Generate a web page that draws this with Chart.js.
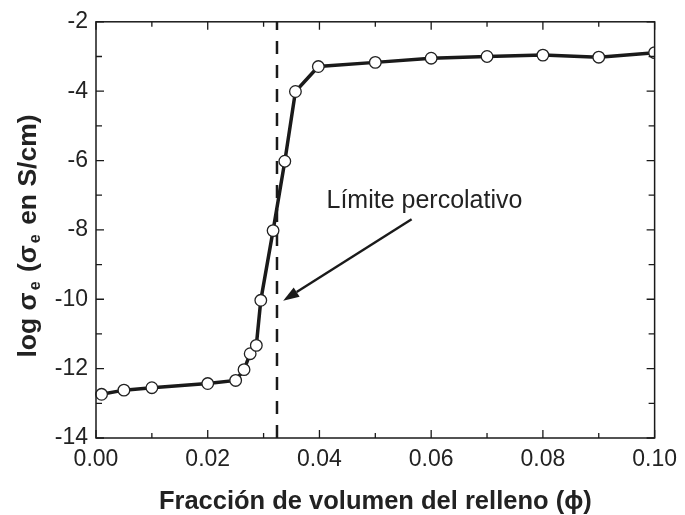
<!DOCTYPE html>
<html><head><meta charset="utf-8">
<script src="https://cdn.jsdelivr.net/npm/chart.js@4/dist/chart.umd.min.js"></script>
<style>html,body{margin:0;padding:0;background:#fff}#wrap{width:685px;height:515px}</style>
</head><body><div id="wrap"><canvas id="c" width="685" height="515"></canvas></div>
<script>
const phi = [0.001, 0.005, 0.010, 0.020, 0.025, 0.0265, 0.0276, 0.0287, 0.0295, 0.0317, 0.0338, 0.0357, 0.0398, 0.050, 0.060, 0.070, 0.080, 0.090, 0.100];
const logSigma = [-12.74, -12.62, -12.55, -12.43, -12.34, -12.03, -11.57, -11.33, -10.03, -8.02, -6.02, -4.01, -3.29, -3.17, -3.05, -3.00, -2.96, -3.02, -2.89];
const percolationPhi = 0.0324;
const percolationRange = [-14, -2];
const xMajorTicks = [0, 0.02, 0.04, 0.06, 0.08, 0.10];
const xMinorTicks = [0.01, 0.03, 0.05, 0.07, 0.09];
const yMajorTicks = [-14, -12, -10, -8, -6, -4, -2];
const yMinorTicks = [-13, -11, -9, -7, -5, -3];
const annotationText = 'Límite percolativo';
const annotationTextAt = [0.0588, -7.37];
const arrowFrom = [0.0565, -7.69];
const arrowTo = [0.0335, -10.04];
const xTitle = 'Fracción de volumen del relleno (\u03D5)';
const yTitleParts = [['log \u03C3', false], ['e', true], [' (\u03C3', false], ['e', true], [' en S/cm)', false]];

const FONT = '"Liberation Sans", Arial, sans-serif';
const INK = '#1a1a1a';

const framePlugin = {
  id: 'frame',
  afterDatasetsDraw(chart) {
    const {ctx, chartArea: a, scales: {x, y}} = chart;
    ctx.save();
    ctx.strokeStyle = INK;
    ctx.lineWidth = 1.5;
    ctx.strokeRect(a.left, a.top, a.right - a.left, a.bottom - a.top);
    ctx.lineWidth = 1.3;
    const tick = (arr, len, horiz) => {
      arr.forEach(v => {
        ctx.beginPath();
        if (horiz) {
          const px = x.getPixelForValue(v);
          ctx.moveTo(px, a.bottom); ctx.lineTo(px, a.bottom - len);
          ctx.moveTo(px, a.top); ctx.lineTo(px, a.top + len);
        } else {
          const py = y.getPixelForValue(v);
          ctx.moveTo(a.left, py); ctx.lineTo(a.left + len, py);
          ctx.moveTo(a.right, py); ctx.lineTo(a.right - len, py);
        }
        ctx.stroke();
      });
    };
    tick(xMajorTicks, 8, true); tick(xMinorTicks, 5, true);
    tick(yMajorTicks, 8, false); tick(yMinorTicks, 6, false);

    // annotation text
    ctx.fillStyle = '#222';
    ctx.font = '25px ' + FONT;
    ctx.textAlign = 'center'; ctx.textBaseline = 'alphabetic';
    ctx.fillText(annotationText, x.getPixelForValue(annotationTextAt[0]), y.getPixelForValue(annotationTextAt[1]));

    // arrow
    const x0 = x.getPixelForValue(arrowFrom[0]), y0 = y.getPixelForValue(arrowFrom[1]);
    const x1 = x.getPixelForValue(arrowTo[0]), y1 = y.getPixelForValue(arrowTo[1]);
    const ang = Math.atan2(y1 - y0, x1 - x0);
    const hl = 16, hw = 5.5;
    const bx = x1 - hl * Math.cos(ang), by = y1 - hl * Math.sin(ang);
    ctx.strokeStyle = INK; ctx.fillStyle = INK; ctx.lineWidth = 2.4;
    ctx.beginPath(); ctx.moveTo(x0, y0); ctx.lineTo(bx, by); ctx.stroke();
    ctx.beginPath();
    ctx.moveTo(x1, y1);
    ctx.lineTo(bx + hw * Math.sin(ang), by - hw * Math.cos(ang));
    ctx.lineTo(bx - hw * Math.sin(ang), by + hw * Math.cos(ang));
    ctx.closePath(); ctx.fill();

    // y title with subscripts
    const big = 'bold 26.5px ' + FONT, small = 'bold 16px ' + FONT;
    const gap = 2;
    let total = 0;
    yTitleParts.forEach(([t, sub]) => { ctx.font = sub ? small : big; total += ctx.measureText(t).width + (sub ? gap * 2 : 0); });
    ctx.translate(36, 236);
    ctx.rotate(-Math.PI / 2);
    ctx.textAlign = 'left'; ctx.textBaseline = 'alphabetic';
    ctx.fillStyle = '#222';
    let cx = -total / 2;
    yTitleParts.forEach(([t, sub]) => {
      ctx.font = sub ? small : big;
      if (sub) cx += gap;
      ctx.fillText(t, cx, sub ? 4 : 0);
      cx += ctx.measureText(t).width + (sub ? gap : 0);
    });
    ctx.restore();
  }
};

new Chart(document.getElementById('c'), {
  type: 'scatter',
  data: {
    datasets: [
      {
        data: phi.map((v, i) => ({x: v, y: logSigma[i]})),
        showLine: true,
        borderColor: INK,
        borderWidth: 3.5,
        pointRadius: 5.8,
        pointBackgroundColor: '#fff',
        pointBorderColor: '#222',
        pointBorderWidth: 1.3,
        clip: {left: 8, top: 0, right: 0, bottom: 0}
      },
      {
        data: percolationRange.map(v => ({x: percolationPhi, y: v})),
        showLine: true,
        borderColor: INK,
        borderWidth: 2.5,
        borderDash: [13, 11],
        pointRadius: 0
      }
    ]
  },
  options: {
    responsive: false,
    devicePixelRatio: 1,
    animation: false,
    layout: {padding: {top: 20, right: 24, left: 0, bottom: 0}},
    plugins: {legend: {display: false}, tooltip: {enabled: false}},
    scales: {
      x: {
        type: 'linear', min: 0, max: 0.1,
        afterFit(s) { s.height = 77; },
        grid: {display: false, drawTicks: false},
        border: {display: false},
        ticks: {stepSize: 0.02, autoSkip: false, maxRotation: 0, padding: 8, color: '#222',
          font: {family: FONT, size: 23}, callback: v => v.toFixed(2)},
        title: {display: true, text: xTitle, color: '#222', padding: {top: 0, bottom: 0},
          font: {family: FONT, size: 25.5, weight: 'bold', lineHeight: 1}}
      },
      y: {
        type: 'linear', min: -14, max: -2,
        afterFit(s) { s.width = 96; },
        grid: {display: false, drawTicks: false},
        border: {display: false},
        ticks: {stepSize: 2, autoSkip: false, padding: 8, color: '#222',
          font: {family: FONT, size: 23}}
      }
    }
  },
  plugins: [framePlugin]
});
</script></body></html>
